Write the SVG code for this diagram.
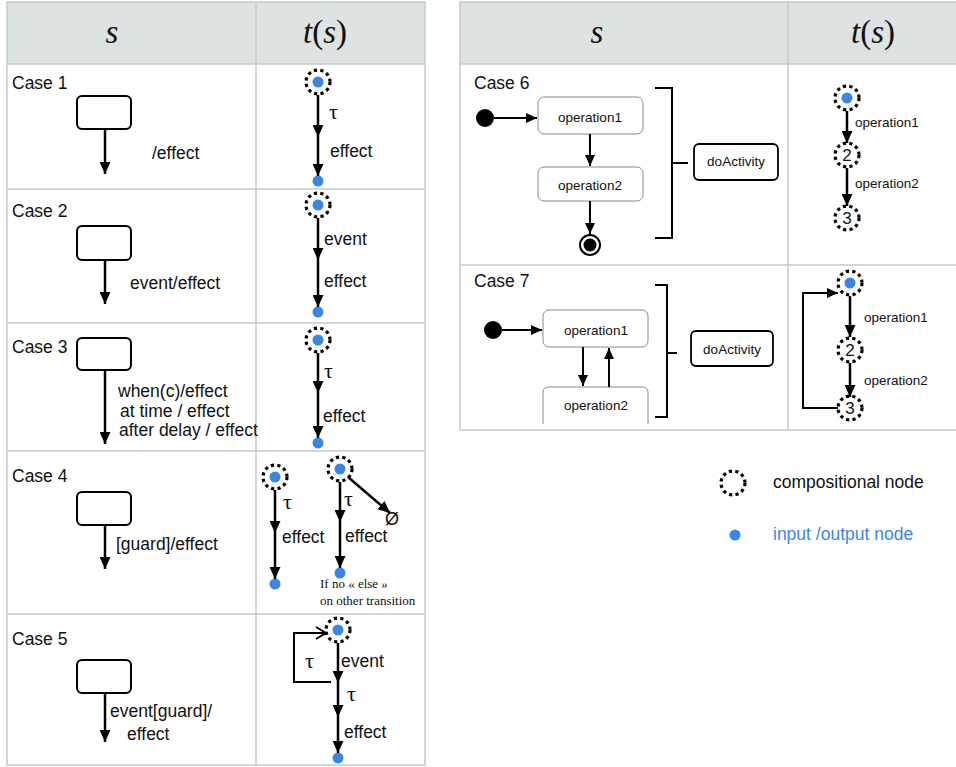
<svg xmlns="http://www.w3.org/2000/svg" width="956" height="767" viewBox="0 0 956 767">
<defs>
<marker id="arr" markerUnits="userSpaceOnUse" markerWidth="12" markerHeight="11" refX="12" refY="5.5" orient="auto"><path d="M0,0 L12,5.5 L0,11 z" fill="#000"/></marker>
<marker id="arrs" markerUnits="userSpaceOnUse" markerWidth="11" markerHeight="10" refX="11" refY="5" orient="auto"><path d="M0,0 L11,5 L0,10 z" fill="#000"/></marker>
<marker id="open" markerUnits="userSpaceOnUse" markerWidth="12" markerHeight="14" refX="11" refY="7" orient="auto"><path d="M1,1 L11,7 L1,13" fill="none" stroke="#000" stroke-width="2"/></marker>
</defs>
<style>
.grid{fill:none;stroke:#c3cbcb;stroke-width:1.5}
.hdr{fill:#dde2e2}
.ht{font-family:"Liberation Serif",serif;font-size:33px;font-style:italic;fill:#111;text-anchor:middle}
.up{font-style:normal}
.t{font-family:"Liberation Sans",Arial,sans-serif;font-size:17.5px;fill:#111}
.sm{font-family:"Liberation Sans",Arial,sans-serif;font-size:13.5px;fill:#111}
.tau{font-family:"Liberation Serif",serif;font-size:22px;fill:#111}
.note{font-family:"Liberation Serif",serif;font-size:13px;fill:#111}
.st{fill:#fff;stroke:#000;stroke-width:2}
.op{fill:#fff;stroke:#8a8a8a;stroke-width:1}
.comp{fill:#fff;stroke:#000;stroke-width:3.2;stroke-dasharray:3.2 3.3}
.io{fill:#3a86e6}
.ln{fill:none;stroke:#000;stroke-width:2.5}
.ln2{fill:none;stroke:#000;stroke-width:2}
.num{font-family:"Liberation Sans",Arial,sans-serif;font-size:17px;fill:#111;text-anchor:middle}
</style>
<rect width="956" height="767" fill="#fff"/>
<g id="tables">
<rect class="hdr" x="7" y="2" width="418" height="62"/>
<rect class="hdr" x="460" y="2" width="496" height="62"/>
<rect class="grid" x="7" y="2" width="418" height="763"/>
<path class="grid" d="M256,2 V765 M7,64 H425 M7,189 H425 M7,323 H425 M7,451 H425 M7,614 H425"/>
<path class="grid" d="M956,2 H460 V430 H956 M788,2 V430 M460,64 H956 M460,265 H956"/>
<text class="ht" x="112" y="43">s</text>
<text class="ht" x="325" y="43">t<tspan class="up">(</tspan>s<tspan class="up">)</tspan></text>
<text class="ht" x="597" y="43">s</text>
<text class="ht" x="873" y="43">t<tspan class="up">(</tspan>s<tspan class="up">)</tspan></text>
<text class="t" x="12" y="89">Case 1</text>
<text class="t" x="12" y="217">Case 2</text>
<text class="t" x="12" y="353">Case 3</text>
<text class="t" x="12" y="482">Case 4</text>
<text class="t" x="12" y="645">Case 5</text>
<text class="t" x="474" y="89">Case 6</text>
<text class="t" x="474" y="287">Case 7</text>
</g>
<g id="c1-state"><rect class="st" x="77" y="96" width="54" height="33" rx="5"/></g>
<g id="c2-state"><rect class="st" x="77" y="226" width="54" height="34" rx="5"/></g>
<g id="c3-state"><rect class="st" x="77" y="338" width="54" height="32" rx="5"/></g>
<g id="c4-state"><rect class="st" x="77" y="492" width="54" height="33" rx="5"/></g>
<g id="c5-state"><rect class="st" x="77" y="660" width="54" height="33" rx="5"/></g>
<g id="c1-n1"><circle class="comp" cx="318" cy="82" r="12"/><circle class="io" cx="318" cy="82" r="5.5"/></g>
<g id="c1-n2"><circle class="io" cx="318" cy="181" r="5.5"/></g>
<g id="c2-n1"><circle class="comp" cx="318" cy="205" r="12"/><circle class="io" cx="318" cy="205" r="5.5"/></g>
<g id="c2-n2"><circle class="io" cx="318" cy="312" r="5.5"/></g>
<g id="c3-n1"><circle class="comp" cx="318" cy="340" r="12"/><circle class="io" cx="318" cy="340" r="5.5"/></g>
<g id="c3-n2"><circle class="io" cx="318" cy="443" r="5.5"/></g>
<g id="c4a-n1"><circle class="comp" cx="275" cy="477" r="12"/><circle class="io" cx="275" cy="477" r="5.5"/></g>
<g id="c4a-n2"><circle class="io" cx="275" cy="584" r="5.5"/></g>
<g id="c4b-n1"><circle class="comp" cx="340" cy="469" r="12"/><circle class="io" cx="340" cy="469" r="5.5"/></g>
<g id="c4b-n2"><circle class="io" cx="340" cy="573" r="5.5"/></g>
<g id="c4b-empty"><text class="t" x="385" y="525" style="font-size:18px">Ø</text></g>
<g id="c4-note"><text class="note" x="320" y="588">If no « else »</text><text class="note" x="320" y="605">on other transition</text></g>
<g id="c5-n1"><circle class="comp" cx="338" cy="630" r="12"/><circle class="io" cx="338" cy="630" r="5.5"/></g>
<g id="c5-n2"><circle class="io" cx="338" cy="758" r="5.5"/></g>
<g id="c6-init"><circle cx="485" cy="118" r="9" fill="#000"/></g>
<g id="c6-op1"><rect class="op" x="538" y="97" width="105" height="37" rx="6"/><text class="sm" x="590" y="122" text-anchor="middle">operation1</text></g>
<g id="c6-op2"><rect class="op" x="538" y="167" width="105" height="34" rx="6"/><text class="sm" x="590" y="190" text-anchor="middle">operation2</text></g>
<g id="c6-final"><circle cx="590" cy="245" r="10" fill="#fff" stroke="#000" stroke-width="2"/><circle cx="590" cy="245" r="6.5" fill="#000"/></g>
<g id="c6-bracket"><path class="ln2" d="M655,88 H672 V238 H655 M672,163 H688"/></g>
<g id="c6-do"><rect x="694" y="144" width="84" height="36" rx="5" fill="#fff" stroke="#000" stroke-width="1.8"/><text class="sm" x="736" y="166" text-anchor="middle">doActivity</text></g>
<g id="c6-t1"><circle class="comp" cx="847" cy="98" r="12"/><circle class="io" cx="847" cy="98" r="5.5"/></g>
<g id="c6-t2"><circle class="comp" cx="847" cy="155" r="12"/><text class="num" x="847" y="161">2</text></g>
<g id="c6-t3"><circle class="comp" cx="847" cy="218" r="12"/><text class="num" x="847" y="224">3</text></g>
<g id="c7-init"><circle cx="493" cy="330" r="9" fill="#000"/></g>
<g id="c7-op1"><rect class="op" x="543" y="310" width="105" height="37" rx="6"/><text class="sm" x="596" y="335" text-anchor="middle">operation1</text></g>
<g id="c7-op2"><path class="op" d="M543,424 V392 Q543,387 549,387 H642 Q648,387 648,392 V424"/><text class="sm" x="596" y="410" text-anchor="middle">operation2</text></g>
<g id="c7-bracket"><path class="ln2" d="M655,285 H667 V417 H655 M667,353 H677"/></g>
<g id="c7-do"><rect x="691" y="331" width="82" height="35" rx="5" fill="#fff" stroke="#000" stroke-width="1.8"/><text class="sm" x="732" y="354" text-anchor="middle">doActivity</text></g>
<g id="c7-t1"><circle class="comp" cx="850" cy="283" r="12"/><circle class="io" cx="850" cy="283" r="5.5"/></g>
<g id="c7-t2"><circle class="comp" cx="850" cy="350" r="12"/><text class="num" x="850" y="356">2</text></g>
<g id="c7-t3"><circle class="comp" cx="850" cy="408" r="12"/><text class="num" x="850" y="414">3</text></g>
<g id="legend">
<circle class="comp" cx="733" cy="483" r="12"/>
<text class="t" x="773" y="488">compositional node</text>
<circle class="io" cx="735" cy="535" r="5.5"/>
<text class="t" x="773" y="540" style="fill:#3a86e6">input /output node</text>
</g>
<g id="connectors">
<path class="ln" d="M105,129 V174" marker-end="url(#arr)"/>
<path class="ln" d="M105,260 V304" marker-end="url(#arr)"/>
<path class="ln" d="M105,370 V444" marker-end="url(#arr)"/>
<path class="ln" d="M105,525 V569" marker-end="url(#arr)"/>
<path class="ln" d="M105,693 V742" marker-end="url(#arr)"/>
<text class="t" x="152" y="159">/effect</text>
<text class="t" x="130" y="289">event/effect</text>
<text class="t" x="118" y="397">when(c)/effect</text>
<text class="t" x="120" y="417">at time / effect</text>
<text class="t" x="119" y="436">after delay / effect</text>
<text class="t" x="116" y="550">[guard]/effect</text>
<text class="t" x="110" y="717">event[guard]/</text>
<text class="t" x="127" y="740">effect</text>
<path class="ln" d="M318,95 V137" marker-end="url(#arr)"/>
<path class="ln" d="M318,137 V176" marker-end="url(#arr)"/>
<text class="tau" x="329" y="119">τ</text>
<text class="t" x="330" y="157">effect</text>
<path class="ln" d="M318,218 V260" marker-end="url(#arr)"/>
<path class="ln" d="M318,260 V307" marker-end="url(#arr)"/>
<text class="t" x="324" y="245">event</text>
<text class="t" x="324" y="287">effect</text>
<path class="ln" d="M318,353 V393" marker-end="url(#arr)"/>
<path class="ln" d="M318,393 V438" marker-end="url(#arr)"/>
<text class="tau" x="324" y="378">τ</text>
<text class="t" x="323" y="422">effect</text>
<path class="ln" d="M275,490 V533" marker-end="url(#arr)"/>
<path class="ln" d="M275,533 V579" marker-end="url(#arr)"/>
<text class="tau" x="283" y="509">τ</text>
<text class="t" x="282" y="543">effect</text>
<path class="ln" d="M340,482 V522" marker-end="url(#arr)"/>
<path class="ln" d="M340,522 V568" marker-end="url(#arr)"/>
<path class="ln" d="M348,477 L390,513" marker-end="url(#arr)"/>
<text class="tau" x="344" y="506">τ</text>
<text class="t" x="345" y="542">effect</text>
<path class="ln" d="M338,643 V683" marker-end="url(#arr)"/>
<path class="ln" d="M338,683 V717" marker-end="url(#arr)"/>
<path class="ln" d="M338,717 V753" marker-end="url(#arr)"/>
<path class="ln2" d="M331,682 H294 V633 H326" marker-end="url(#open)"/>
<text class="tau" x="305" y="668">τ</text>
<text class="t" x="341" y="667">event</text>
<text class="tau" x="347" y="701">τ</text>
<text class="t" x="344" y="738">effect</text>
<path class="ln2" d="M494,118 H537" marker-end="url(#arrs)"/>
<path class="ln2" d="M590,134 V166" marker-end="url(#arrs)"/>
<path class="ln2" d="M590,201 V234" marker-end="url(#arrs)"/>
<path class="ln" d="M847,111 V143" marker-end="url(#arr)"/>
<path class="ln" d="M847,168 V206" marker-end="url(#arr)"/>
<text class="sm" x="855" y="127">operation1</text>
<text class="sm" x="855" y="188">operation2</text>
<path class="ln2" d="M502,330 H542" marker-end="url(#arrs)"/>
<path class="ln2" d="M583,347 V386" marker-end="url(#arrs)"/>
<path class="ln2" d="M609,387 V348" marker-end="url(#arrs)"/>
<path class="ln" d="M850,296 V337" marker-end="url(#arr)"/>
<path class="ln" d="M850,363 V397" marker-end="url(#arr)"/>
<path class="ln2" d="M838,408 H803 V293 H838" marker-end="url(#arrs)"/>
<text class="sm" x="864" y="322">operation1</text>
<text class="sm" x="864" y="385">operation2</text>
</g>
</svg>
